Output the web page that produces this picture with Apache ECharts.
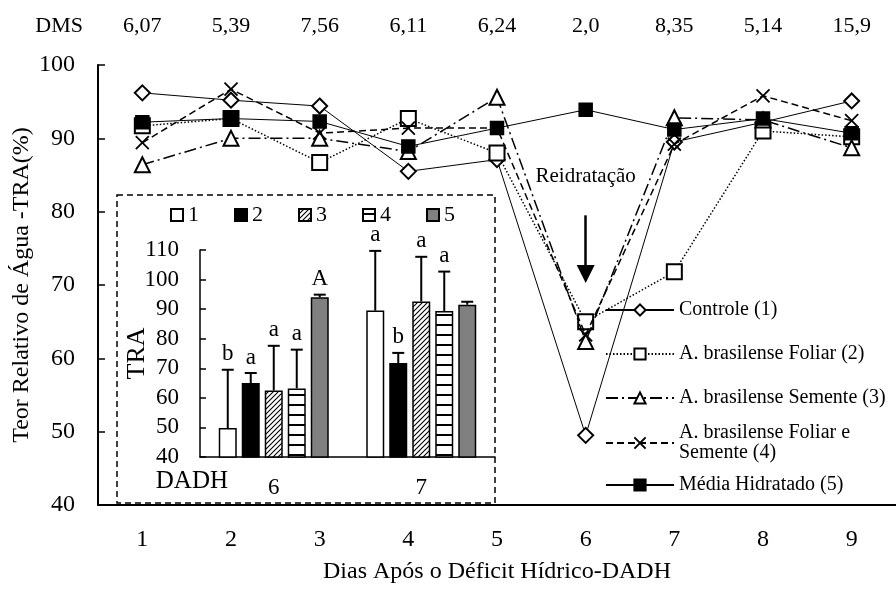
<!DOCTYPE html>
<html lang="pt">
<head>
<meta charset="utf-8">
<title>TRA - Dias Após o Déficit Hídrico</title>
<script src="https://cdn.jsdelivr.net/npm/echarts@6/dist/echarts.min.js"></script>
<style>
    html, body { margin: 0; padding: 0; background: #fff; }
    #grafico { width: 896px; height: 589px; }
</style>
</head>
<body>
<div id="grafico"></div>
<script>
// dados do gráfico principal (TRA %)
var dias = ['1', '2', '3', '4', '5', '6', '7', '8', '9'];
var dms = ['6,07', '5,39', '7,56', '6,11', '6,24', '2,0', '8,35', '5,14', '15,9'];
var controle = [96.2, 95.2, 94.4, 85.5, 87.1, 49.5, 89.5, 92.2, 95.1];
var foliar = [91.7, 92.7, 86.7, 92.7, 88.0, 65.0, 71.8, 91.0, 90.2];
var semente = [86.4, 90.0, 90.0, 88.2, 95.6, 62.3, 92.8, 92.5, 88.7];
var foliarSemente = [89.4, 96.7, 90.7, 91.4, 91.4, 63.2, 89.2, 95.8, 92.4];
var hidratado = [92.2, 92.7, 92.3, 88.9, 91.4, 93.9, 91.2, 92.7, 90.7];
var nomes = ['Controle (1)', 'A. brasilense Foliar (2)', 'A. brasilense Semente (3)',
    'A. brasilense Foliar e\nSemente (4)', 'Média Hidratado (5)'];
// seta de reidratação (dia 6)
var setaInicio = 79.5, setaFim = 71.5;

// dados do gráfico interno (barras)
var dadh = ['6', '7'];
var tratamentos = ['1', '2', '3', '4', '5'];
var traDia6 = [49.8, 65.0, 62.5, 63.2, 94.0];
var traDia7 = [89.5, 71.8, 92.6, 89.4, 91.5];
var erroDia6 = [19.7, 3.4, 15.1, 13.1, 0.9];
var erroDia7 = [20.2, 3.4, 15.1, 13.3, 1.0];
var letrasDia6 = ['b', 'a', 'a', 'a', 'A'];
var letrasDia7 = ['a', 'b', 'a', 'a', ''];

var FONTE = 'Liberation Serif';
var BAR_W = 18, BAR_GAP = 5;

// padrões das barras
function padrao(tam, desenha) {
    var c = document.createElement('canvas');
    c.width = tam; c.height = tam;
    var g = c.getContext('2d');
    g.fillStyle = '#fff';
    g.fillRect(0, 0, tam, tam);
    g.strokeStyle = '#000';
    g.fillStyle = '#000';
    desenha(g, tam);
    return { image: c, repeat: 'repeat' };
}
var hachura = padrao(5, function (g, t) {
    g.lineWidth = 1.1;
    g.beginPath();
    g.moveTo(0, t); g.lineTo(t, 0);
    g.moveTo(-1, 1); g.lineTo(1, -1);
    g.moveTo(t - 1, t + 1); g.lineTo(t + 1, t - 1);
    g.stroke();
});
var listras = padrao(10, function (g, t) {
    g.fillRect(0, 4, t, 2);
});
var coresBarras = ['#fff', '#000', hachura, listras, '#808080'];

var chart = echarts.init(document.getElementById('grafico'));

var estilos = [
    { symbol: 'emptyDiamond', size: 15, line: { type: 'solid', width: 1 } },
    { symbol: 'emptyRect', size: 15, line: { type: [1.5, 2], width: 1.5 } },
    { symbol: 'emptyTriangle', size: 15, line: { type: [12, 4, 2, 4], width: 1.5 } },
    { symbol: 'path://M0,0L10,10M10,0L0,10', size: 13, line: { type: [7, 4], width: 1.5 } },
    { symbol: 'rect', size: 13, line: { type: 'solid', width: 1 } }
];
var valores = [controle, foliar, semente, foliarSemente, hidratado];

var series = valores.map(function (v, i) {
    var s = {
        name: nomes[i],
        type: 'line',
        xAxisIndex: 0,
        yAxisIndex: 0,
        data: v,
        symbol: estilos[i].symbol,
        symbolSize: estilos[i].size,
        lineStyle: { color: '#000', width: estilos[i].line.width, type: estilos[i].line.type },
        itemStyle: { color: '#000', borderColor: '#000', borderWidth: 1.5 },
        z: 2 + i
    };
    if (i === 3) s.itemStyle = { color: '#000', borderColor: '#000', borderWidth: 1.8 };
    if (i === 4) {
        s.markLine = {
            silent: true,
            symbol: ['none', 'triangle'],
            symbolSize: 18,
            symbolRotate: 180,
            itemStyle: { color: '#000' },
            lineStyle: { color: '#000', width: 2.5, type: 'solid' },
            label: {
                show: true, position: 'start', distance: 28,
                formatter: 'Reidratação', color: '#000',
                fontFamily: FONTE, fontSize: 21
            },
            data: [[{ coord: [5, setaInicio] }, { coord: [5, setaFim] }]]
        };
    }
    return s;
});

// barras do gráfico interno
tratamentos.forEach(function (t, k) {
    series.push({
        name: t,
        type: 'bar',
        xAxisIndex: 2,
        yAxisIndex: 1,
        data: [traDia6[k], traDia7[k]],
        barWidth: BAR_W,
        barGap: (BAR_GAP / BAR_W * 100) + '%',
        itemStyle: { color: coresBarras[k], borderColor: '#000', borderWidth: 1.5 },
        z: 3
    });
});

// barras de erro e letras
var dadosErro = [], letras = [];
[[traDia6, erroDia6, letrasDia6], [traDia7, erroDia7, letrasDia7]].forEach(function (d, c) {
    d[0].forEach(function (m, k) {
        dadosErro.push([c, k, m, d[1][k]]);
        letras.push(d[2][k]);
    });
});
series.push({
    type: 'custom',
    xAxisIndex: 2,
    yAxisIndex: 1,
    data: dadosErro,
    z: 5,
    silent: true,
    renderItem: function (params, api) {
        var c = api.value(0), k = api.value(1), m = api.value(2), e = api.value(3);
        var base = api.coord([c, m]);
        var topo = api.coord([c, m + e]);
        var x = base[0] + (k - 2) * (BAR_W + BAR_GAP);
        var filhos = [
            { type: 'line', shape: { x1: x, y1: base[1], x2: x, y2: topo[1] }, style: { stroke: '#000', lineWidth: 2 } },
            { type: 'line', shape: { x1: x - 6, y1: topo[1], x2: x + 6, y2: topo[1] }, style: { stroke: '#000', lineWidth: 2 } }
        ];
        var l = letras[params.dataIndex];
        if (l) {
            filhos.push({
                type: 'text', x: x, y: topo[1] - 4,
                style: { text: l, fill: '#000', font: '23px ' + FONTE, align: 'center', verticalAlign: 'bottom' }
            });
        }
        return { type: 'group', children: filhos };
    }
});

// legendas
var topoLegenda = [300, 344, 388, 413, 475];
var legendas = nomes.map(function (n, i) {
    var ts = { fontFamily: FONTE, fontSize: 20, color: '#000' };
    if (i === 3) { ts.lineHeight = 20; ts.padding = [20, 0, 0, 0]; }
    return {
        data: [n], left: 605, top: topoLegenda[i], padding: 0,
        itemWidth: 68, itemHeight: 14,
        selectedMode: false,
        textStyle: ts
    };
});
legendas.push({
    data: tratamentos, left: 170, top: 204, padding: 0,
    orient: 'horizontal', icon: 'rect',
    itemWidth: 12, itemHeight: 12, itemGap: 35,
    selectedMode: false,
    textStyle: { fontFamily: FONTE, fontSize: 22, color: '#000' }
});

var option = {
    animation: false,
    backgroundColor: '#fff',
    textStyle: { fontFamily: FONTE, color: '#000' },
    graphic: [{
        type: 'rect', z: -10,
        shape: { x: 117, y: 195, width: 378, height: 308 },
        style: { fill: '#fff', stroke: '#000', lineWidth: 1.5, lineDash: [6, 4] }
    }],
    legend: legendas,
    grid: [
        { left: 98, right: 0, top: 65, bottom: 78 },
        { left: 200, top: 250, width: 295, height: 207 }
    ],
    xAxis: [
        {
            type: 'category', gridIndex: 0, data: dias, position: 'bottom',
            axisLine: { lineStyle: { color: '#000', width: 2 } },
            axisTick: { inside: true, length: 8, lineStyle: { color: '#000', width: 1.5 } },
            axisLabel: { fontFamily: FONTE, fontSize: 24, margin: 23, color: '#000' },
            name: 'Dias Após o Déficit Hídrico-DADH', nameLocation: 'middle', nameGap: 55,
            nameMoveOverlap: false,
            nameTextStyle: { fontFamily: FONTE, fontSize: 24, color: '#000' }
        },
        {
            type: 'category', gridIndex: 0, data: dms, position: 'top',
            axisLine: { show: false }, axisTick: { show: false },
            axisLabel: { fontFamily: FONTE, fontSize: 22, margin: 28, color: '#000' },
            name: 'DMS', nameLocation: 'start', nameGap: 15,
            nameTextStyle: { fontFamily: FONTE, fontSize: 22, color: '#000', verticalAlign: 'bottom', padding: [0, 0, 28, 0] }
        },
        {
            type: 'category', gridIndex: 1, data: dadh,
            axisLine: { lineStyle: { color: '#000', width: 1.5 } },
            axisTick: { show: false },
            axisLabel: { fontFamily: FONTE, fontSize: 23, margin: 19, color: '#000' },
            name: 'DADH', nameLocation: 'start', nameGap: -28,
            nameTextStyle: { fontFamily: FONTE, fontSize: 25, color: '#000', verticalAlign: 'top', padding: [12, 0, 0, 0] }
        }
    ],
    yAxis: [
        {
            type: 'value', gridIndex: 0, min: 40, max: 100, interval: 10,
            axisLine: { show: true, lineStyle: { color: '#000', width: 2 } },
            axisTick: { show: true, inside: true, length: 7, lineStyle: { color: '#000', width: 1.5 } },
            axisLabel: { fontFamily: FONTE, fontSize: 24, margin: 23, color: '#000' },
            splitLine: { show: false },
            name: 'Teor Relativo de Água -TRA(%)', nameLocation: 'middle', nameGap: 64,
            nameMoveOverlap: false,
            nameTextStyle: { fontFamily: FONTE, fontSize: 24, color: '#000' }
        },
        {
            type: 'value', gridIndex: 1, min: 40, max: 110, interval: 10,
            axisLine: { show: true, lineStyle: { color: '#000', width: 1.5 } },
            axisTick: { show: true, inside: true, length: 6, lineStyle: { color: '#000', width: 1.5 } },
            axisLabel: { fontFamily: FONTE, fontSize: 23, margin: 21, color: '#000' },
            splitLine: { show: false },
            name: 'TRA', nameLocation: 'middle', nameGap: 50,
            nameMoveOverlap: false,
            nameTextStyle: { fontFamily: FONTE, fontSize: 26, color: '#000' }
        }
    ],
    series: series
};

chart.setOption(option);
</script>
</body>
</html>
